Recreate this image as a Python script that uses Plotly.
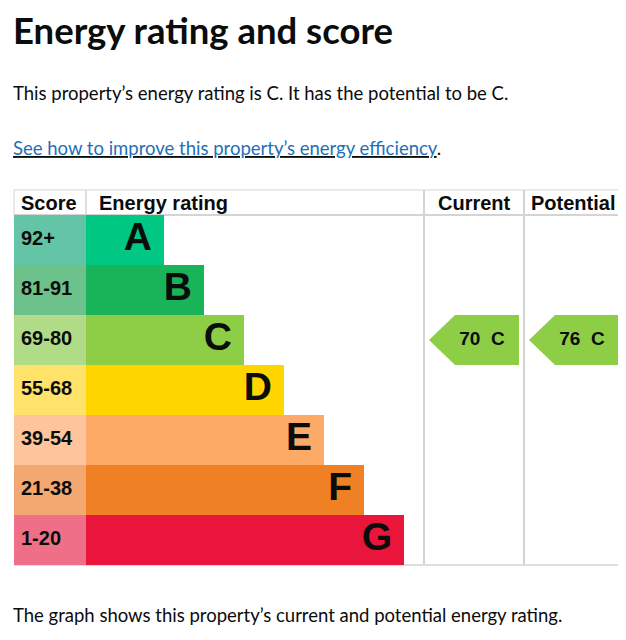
import plotly.graph_objects as go

# ---------------- data ----------------
ratings = ["A", "B", "C", "D", "E", "F", "G"]
score_ranges = ["92+", "81-91", "69-80", "55-68", "39-54", "21-38", "1-20"]
band_min = [92, 81, 69, 55, 39, 21, 1]
bar_steps = [1, 2, 3, 4, 5, 6, 7]
column_names = ["Current", "Potential"]
column_scores = [70, 76]

# ---------------- style ----------------
PAGE_OFF = 8                      # browser body margin
VIEW_W, VIEW_H = 626, 640
W, H = VIEW_W - 2 * PAGE_OFF, VIEW_H - 2 * PAGE_OFF
RIGHT = PAGE_OFF + W
bar_colors = ["#00c781", "#19b459", "#8dce46", "#ffd500", "#fcaa65", "#ef8023", "#e9153b"]
score_colors = ["#64c4a6", "#6cc28a", "#b0dc88", "#ffe26a", "#fec59c", "#f3a872", "#ef6f88"]
TXT = "#0b0c0c"
GRID = "#d4d4d4"
TABLE_L, SCORE_R = 14, 86
TABLE_TOP, HEAD_BOT, TABLE_BOT = 190, 215, 565
BAR_MIN, BAR_STEP = 38, 40
COL_L = [424, 524]
ARIAL = "Liberation Sans, Arial, sans-serif"
BODY = "Lato, Noto Sans, sans-serif"


def py(px):
    return 1 - (px - PAGE_OFF) / H


def px_x(px):
    return (px - PAGE_OFF) / W


idx = list(range(len(ratings)))

fig = go.Figure()

# score cells
fig.add_trace(go.Bar(
    y=idx, x=[SCORE_R - TABLE_L] * len(idx), base=TABLE_L, orientation="h",
    width=1, marker=dict(color=score_colors, line=dict(width=0)),
    hoverinfo="skip", showlegend=False))

# rating bars
bar_len = [BAR_MIN + BAR_STEP * s for s in bar_steps]
fig.add_trace(go.Bar(
    y=idx, x=bar_len, base=SCORE_R, orientation="h",
    width=1, marker=dict(color=bar_colors, line=dict(width=0)),
    hoverinfo="skip", showlegend=False))

# score labels
fig.add_trace(go.Scatter(
    y=idx, x=[TABLE_L + 7] * len(idx), mode="text", text=score_ranges,
    textposition="middle right",
    textfont=dict(family=ARIAL, size=20, color=TXT, weight="bold"),
    hoverinfo="skip", showlegend=False))

# rating letters
fig.add_trace(go.Scatter(
    y=idx, x=[SCORE_R + L - 12 for L in bar_len], mode="text", text=ratings,
    textposition="middle left",
    textfont=dict(family=ARIAL, size=39, color=TXT, weight="bold"),
    hoverinfo="skip", showlegend=False))


def band_of(score):
    for i, m in enumerate(band_min):
        if score >= m:
            return i
    return len(band_min) - 1


# current / potential arrows
for colL, score in zip(COL_L, column_scores):
    b = band_of(score)
    tip, sh, rt = colL + 5, colL + 31, colL + 95
    fig.add_trace(go.Scatter(
        x=[tip, sh, rt, rt, sh, tip],
        y=[b, b - 0.5, b - 0.5, b + 0.5, b + 0.5, b],
        mode="lines", fill="toself", fillcolor=bar_colors[b],
        line=dict(width=0, color=bar_colors[b]),
        hoverinfo="skip", showlegend=False))
    fig.add_trace(go.Scatter(
        x=[colL + 58], y=[b], mode="text", text=[f"{score}\u00a0\u00a0{ratings[b]}"],
        textposition="middle center",
        textfont=dict(family=ARIAL, size=19, color=TXT, weight="bold"),
        hoverinfo="skip", showlegend=False))

# grid lines
shapes = []


def hline(x0, x1, y, w=1):
    shapes.append(dict(type="line", xref="paper", yref="paper",
                       x0=px_x(x0), x1=px_x(x1), y0=py(y), y1=py(y),
                       line=dict(color=GRID, width=w), layer="below"))


def vline(x, y0, y1, w=1.5):
    shapes.append(dict(type="line", xref="paper", yref="paper",
                       x0=px_x(x), x1=px_x(x), y0=py(y0), y1=py(y1),
                       line=dict(color=GRID, width=w), layer="below"))


hline(TABLE_L, RIGHT, TABLE_TOP, 1)
hline(TABLE_L, RIGHT, HEAD_BOT, 2)
hline(TABLE_L, RIGHT, TABLE_BOT, 1.5)
vline(TABLE_L, TABLE_TOP, HEAD_BOT, 1)
vline(SCORE_R, TABLE_TOP, HEAD_BOT, 1.5)
for c in COL_L:
    vline(c, TABLE_TOP, TABLE_BOT, 2)

# annotations
ann = []


def text(x, y, s, size, family, anchor="left", bold=False, color=TXT):
    ann.append(dict(xref="paper", yref="paper", x=px_x(x), y=py(y), text=s,
                    showarrow=False, xanchor=anchor, yanchor="middle",
                    font=dict(size=size, family=family, color=color,
                              weight="bold" if bold else "normal")))


text(11, 30, "Energy rating and score", 36.5, BODY, bold=True)
text(11, 93, "This property\u2019s energy rating is C. It has the potential to be C.", 18.5, BODY)
text(11, 148, "<u><span style='color:#1d70b8'>See how to improve this property\u2019s energy efficiency</span></u>.", 18.5, BODY)
text(19, 203, "Score", 20, ARIAL, bold=True)
text(97, 203, "Energy rating", 20, ARIAL, bold=True)
text(474, 203, column_names[0], 20, ARIAL, anchor="center", bold=True)
text(RIGHT - 1, 203, column_names[1], 20, ARIAL, anchor="right", bold=True)
text(11, 615, "The graph shows this property\u2019s current and potential energy rating.", 18.5, BODY)

fig.update_layout(
    width=W, height=H, margin=dict(l=0, r=0, t=0, b=0),
    paper_bgcolor="white", plot_bgcolor="rgba(0,0,0,0)",
    barmode="overlay", bargap=0, showlegend=False,
    shapes=shapes, annotations=ann,
    xaxis=dict(range=[PAGE_OFF, RIGHT], domain=[0, 1], visible=False, fixedrange=True),
    yaxis=dict(range=[len(idx) - 0.5, -0.5], domain=[py(TABLE_BOT), py(HEAD_BOT)],
               visible=False, fixedrange=True),
)

fig.write_html("out.html", config={"displayModeBar": False})
